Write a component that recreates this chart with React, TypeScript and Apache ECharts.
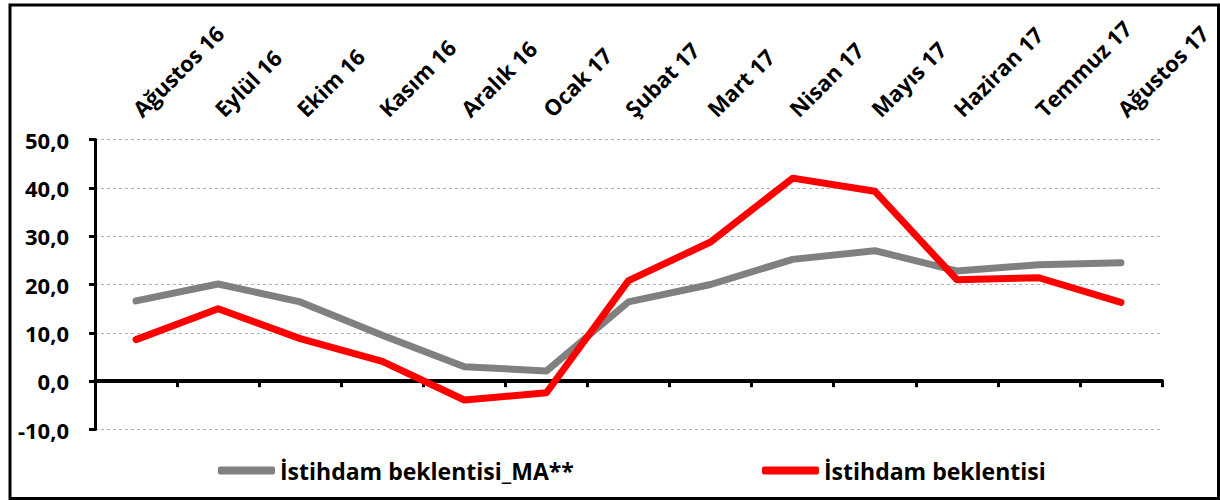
import React, { useEffect, useRef } from "react";
import * as echarts from "echarts";

const categories = [
  "Ağustos 16", "Eylül 16", "Ekim 16", "Kasım 16", "Aralık 16", "Ocak 17",
  "Şubat 17", "Mart 17", "Nisan 17", "Mayıs 17", "Haziran 17", "Temmuz 17", "Ağustos 17",
];
const maName = "İstihdam beklentisi_MA**";
const maValues = [16.6, 20.1, 16.4, 9.5, 3.0, 2.1, 16.4, 20.0, 25.2, 27.0, 22.8, 24.1, 24.5];
const rawName = "İstihdam beklentisi";
const rawValues = [8.6, 15.0, 8.8, 4.1, -3.9, -2.4, 20.8, 28.8, 42.0, 39.3, 21.0, 21.4, 16.3];
const yMin = -10;
const yMax = 50;
const yStep = 10;

export default function App() {
  const ref = useRef<HTMLDivElement>(null);
  useEffect(() => {
    document.body.style.margin = "0";
    const chart = echarts.init(ref.current!, undefined, { renderer: "svg" });
    const font = "'Open Sans', 'Noto Sans', sans-serif";
    const legendText = { fontFamily: font, fontWeight: "bold", fontSize: 23, color: "#000" };
    chart.setOption({
      animation: false,
      backgroundColor: "#ffffff",
      grid: { left: 95, right: 58, top: 139.5, bottom: 70.5, containLabel: false },
      graphic: [
        {
          type: "rect",
          shape: { x: 10, y: 5, width: 1208.5, height: 493.5 },
          style: { fill: "none", stroke: "#000", lineWidth: 3 },
          silent: true,
        },
      ],
      legend: [
        {
          data: [maName],
          left: 213,
          top: 454,
          icon: "roundRect",
          itemWidth: 57,
          itemHeight: 8,
          textStyle: legendText,
        },
        {
          data: [rawName],
          left: 757,
          top: 454,
          icon: "roundRect",
          itemWidth: 57,
          itemHeight: 8,
          textStyle: legendText,
        },
      ],
      xAxis: [
        {
          type: "category",
          data: categories,
          position: "bottom",
          boundaryGap: true,
          axisLine: { show: true, onZero: true, lineStyle: { color: "#000", width: 4 } },
          axisTick: { show: true, length: 6, lineStyle: { color: "#000", width: 3 } },
          axisLabel: { show: false },
          splitLine: { show: false },
        },
        {
          type: "category",
          data: categories,
          position: "top",
          boundaryGap: true,
          axisLine: { show: false, onZero: false },
          axisTick: { show: false },
          axisLabel: {
            show: true,
            interval: 0,
            rotate: -45,
            margin: 27,
            fontFamily: font,
            fontWeight: "bold",
            fontSize: 22,
            color: "#000",
          },
          splitLine: { show: false },
        },
      ],
      yAxis: {
        type: "value",
        min: yMin,
        max: yMax,
        interval: yStep,
        axisLine: { show: true, lineStyle: { color: "#000", width: 3 } },
        axisTick: { show: true, length: 6, lineStyle: { color: "#000", width: 3 } },
        axisLabel: {
          margin: 26,
          fontFamily: font,
          fontWeight: "bold",
          fontSize: 22,
          color: "#000",
          formatter: (v: number) => v.toFixed(1).replace(".", ","),
        },
        splitLine: { show: true, lineStyle: { color: "#b0b0b0", width: 1, type: [3, 3] } },
      },
      series: [
        {
          name: maName,
          type: "line",
          xAxisIndex: 0,
          data: maValues,
          symbol: "none",
          color: "#808080",
          lineStyle: { color: "#808080", width: 7, cap: "round", join: "round" },
        },
        {
          name: rawName,
          type: "line",
          xAxisIndex: 0,
          data: rawValues,
          symbol: "none",
          color: "#ff0000",
          lineStyle: { color: "#ff0000", width: 7, cap: "round", join: "round" },
        },
      ],
    });
    return () => chart.dispose();
  }, []);
  return <div ref={ref} style={{ width: 1220, height: 500 }} />;
}
